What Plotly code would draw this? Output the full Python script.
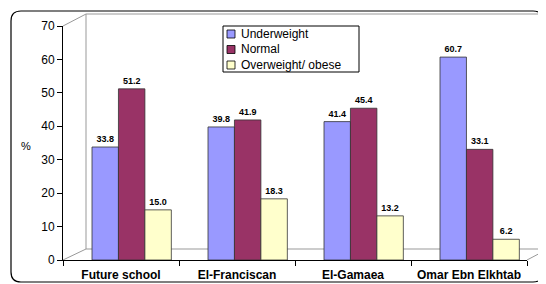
import plotly.graph_objects as go

categories = ["Future school", "El-Franciscan", "El-Gamaea", "Omar Ebn Elkhtab"]
underweight = [33.8, 39.8, 41.4, 60.7]
normal = [51.2, 41.9, 45.4, 33.1]
overweight = [15.0, 18.3, 13.2, 6.2]
y_ticks = [0, 10, 20, 30, 40, 50, 60, 70]
series_names = ["Underweight", "Normal", "Overweight/ obese"]

# page body has an 8px margin, so the figure is 8px smaller than the window
OFF = 8
W, H = 546 - OFF, 284 - OFF
# plot area in window pixels: x 63..527, y 26..260
PL, PR, PT, PB = 63, 527, 26, 260
L, T = PL - OFF, PT - OFF
R, B = W - (PR - OFF), H - (PB - OFF)
FONT = "Liberation Sans, Arial"


def px(x):
    return (x - PL) / (PR - PL)


def py(y):
    return (PB - y) / (PB - PT)


colors = ["#9999ff", "#993366", "#ffffcc"]
offsets = [-0.25, -0.022, 0.206]
bw = 0.228

fig = go.Figure()
for name, vals, col, off in zip(series_names, [underweight, normal, overweight], colors, offsets):
    fig.add_trace(go.Bar(
        x=categories, y=vals, name=name, offset=off, width=bw,
        marker=dict(color=col, line=dict(color="#333333", width=0.8)),
        text=[f"{v:.1f}" for v in vals], textposition="outside",
        textfont=dict(family=FONT, size=9, color="black", weight="bold"),
        cliponaxis=False, showlegend=False,
    ))

shapes = []
# outer rounded frame
x0, x1, y0, y1, r = 11, 543, 11, 282, 10
path = (f"M {px(x0+r)},{py(y0)} L {px(x1-r)},{py(y0)} Q {px(x1)},{py(y0)} {px(x1)},{py(y0+r)} "
        f"L {px(x1)},{py(y1-r)} Q {px(x1)},{py(y1)} {px(x1-r)},{py(y1)} "
        f"L {px(x0+r)},{py(y1)} Q {px(x0)},{py(y1)} {px(x0)},{py(y1-r)} "
        f"L {px(x0)},{py(y0+r)} Q {px(x0)},{py(y0)} {px(x0+r)},{py(y0)} Z")
shapes.append(dict(type="path", xref="paper", yref="paper", path=path,
                   line=dict(color="black", width=1.2), layer="below"))
# 3D back wall / floor lines
gray = dict(color="#999999", width=1)
for (a, b, c, d) in [(86, 14, 546, 14), (86, 14, 86, 249), (86, 249, 546, 249),
                     (63, 26, 86, 14), (63, 260, 86, 249), (527, 260, 546, 250)]:
    shapes.append(dict(type="line", xref="paper", yref="paper",
                       x0=px(a), y0=py(b), x1=px(c), y1=py(d), line=gray, layer="below"))

# manual legend
shapes.append(dict(type="rect", xref="paper", yref="paper",
                   x0=px(223), x1=px(359), y0=py(26), y1=py(72),
                   line=dict(color="black", width=1), fillcolor="white", layer="above"))
annotations = []
for i, (name, col) in enumerate(zip(series_names, colors)):
    cy = 34 + i * 15.5
    shapes.append(dict(type="rect", xref="paper", yref="paper",
                       x0=px(227), x1=px(235), y0=py(cy - 4), y1=py(cy + 4),
                       line=dict(color="black", width=0.8), fillcolor=col, layer="above"))
    annotations.append(dict(xref="paper", yref="paper", x=px(239), y=py(cy),
                            xanchor="left", yanchor="middle", text=name, showarrow=False,
                            font=dict(family=FONT, size=12, color="black")))
annotations.append(dict(xref="paper", yref="paper", x=px(26), y=py(146),
                        xanchor="center", yanchor="middle", text="%", showarrow=False,
                        font=dict(family=FONT, size=11, color="black")))

fig.update_layout(
    width=W, height=H,
    margin=dict(l=L, r=R, t=T, b=B, autoexpand=False),
    paper_bgcolor="white", plot_bgcolor="rgba(0,0,0,0)",
    barmode="overlay",
    font=dict(family=FONT, size=10, color="black"),
    shapes=shapes, annotations=annotations, showlegend=False,
    xaxis=dict(showline=True, linecolor="black", linewidth=1, ticks="outside",
               tickson="boundaries", ticklen=5, tickcolor="black", showgrid=False,
               range=[-0.5, 3.5], automargin=False, ticklabelstandoff=4,
               tickfont=dict(size=12, family=FONT, weight="bold")),
    yaxis=dict(range=[0, 70], tickvals=y_ticks, showline=True, linecolor="black",
               linewidth=1, ticks="outside", ticklen=5, tickcolor="black",
               showgrid=False, zeroline=False, automargin=False,
               tickfont=dict(size=12, family=FONT)),
)
fig.write_html("out.html")
